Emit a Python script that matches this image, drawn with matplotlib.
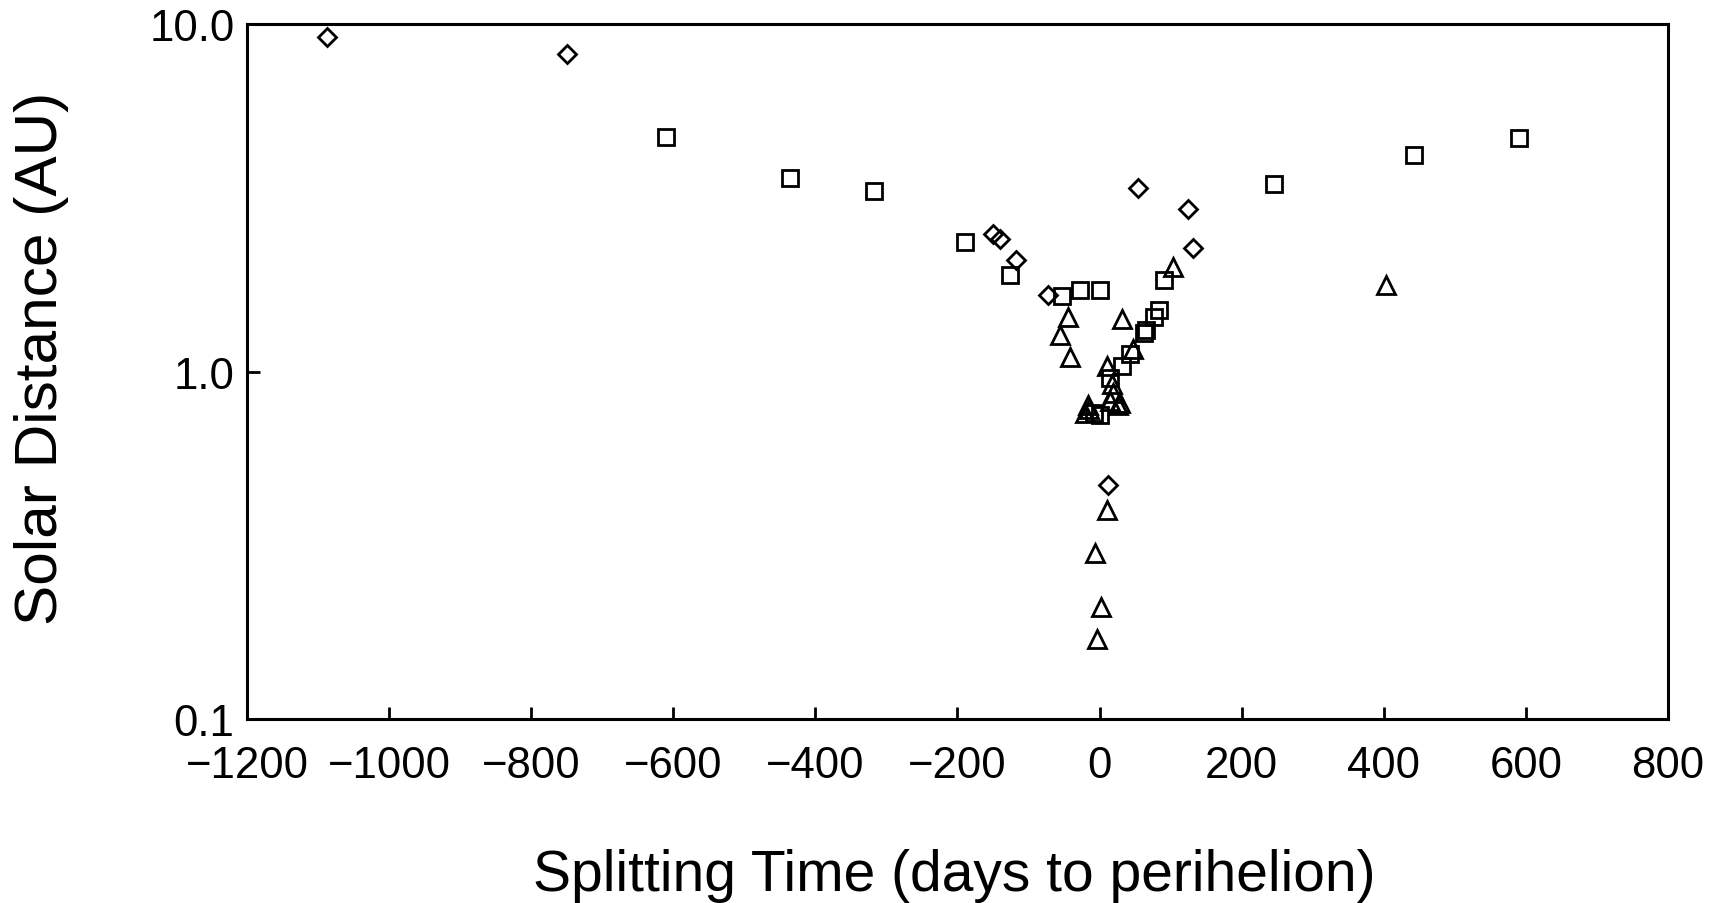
import matplotlib
matplotlib.use("Agg")
import matplotlib.pyplot as plt

plt.rcParams['font.family'] = ['Liberation Sans', 'DejaVu Sans']

# diamonds
diamond_days = [-1087, -750, -150, -140, -117, -72, 54, 125, 132, 12]
diamond_au = [9.16, 8.22, 2.48, 2.40, 2.09, 1.66, 3.37, 2.94, 2.26, 0.47]

# squares
square_days = [-610, -435, -318, -189, -126, -53, -28, 0, 245, 443, 590,
               91, 84, 77, 65, 62, 43, 31, 15, -8, 1]
square_au = [4.74, 3.60, 3.30, 2.36, 1.90, 1.65, 1.72, 1.72, 3.47, 4.19, 4.70,
             1.83, 1.50, 1.44, 1.32, 1.29, 1.12, 1.04, 0.96, 0.76, 0.75]

# triangles
triangle_days = [104, -44, -56, -42, 31, 10, 17, 19, 15, 29, -16, -21, 47,
                 -15, 26, 10, -7, 2, -3, 403]
triangle_au = [2.00, 1.44, 1.27, 1.10, 1.42, 1.04, 0.92, 0.87, 0.82, 0.81,
               0.80, 0.76, 1.16, 0.78, 0.80, 0.40, 0.30, 0.21, 0.17, 1.78]

x_ticks = list(range(-1200, 801, 200))

fig = plt.figure(figsize=(17.22, 9.04), dpi=100)
ax = fig.add_axes([0.1434, 0.2035, 0.8252, 0.7688])

style = dict(linestyle='none', markerfacecolor='none', markeredgecolor='black',
             markeredgewidth=2.0)
ax.plot(square_days, square_au, marker='s', markersize=12, **style)
ax.plot(triangle_days, triangle_au, marker='^', markersize=12.5, **style)
ax.plot(diamond_days, diamond_au, marker='D', markersize=9.5, **style)

ax.set_yscale('log')
ax.set_xlim(-1200, 800)
ax.set_ylim(0.1, 10)
ax.set_xticks(x_ticks)
ax.set_xticklabels([str(v).replace('-', '\u2212') for v in x_ticks])
ax.set_yticks([0.1, 1.0, 10.0])
ax.set_yticklabels(['0.1', '1.0', '10.0'])
ax.minorticks_off()
ax.tick_params(direction='in', length=9, width=2, labelsize=31.5, pad=9)
ax.tick_params(axis='x', pad=19)
for s in ax.spines.values():
    s.set_linewidth(2.2)

ax.set_xlabel('Splitting Time (days to perihelion)', fontsize=41)
ax.set_ylabel('Solar Distance (AU)', fontsize=43.5)
ax.xaxis.set_label_coords(0.498, -0.186)
ax.yaxis.set_label_coords(-0.125, 0.521)

fig.savefig('out.png', dpi=100)
